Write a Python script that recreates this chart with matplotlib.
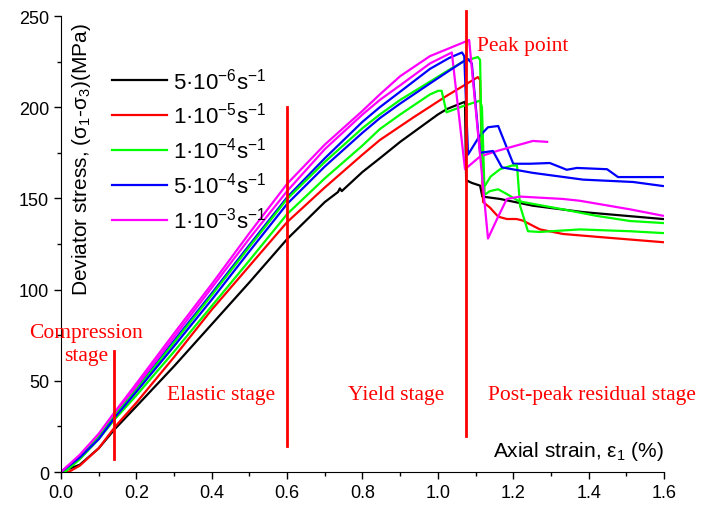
import matplotlib
matplotlib.use("Agg")
import matplotlib.pyplot as plt
from matplotlib.ticker import MultipleLocator, FormatStrFormatter

plt.rcParams["font.family"] = ["Liberation Sans", "DejaVu Sans"]
plt.rcParams["mathtext.fontset"] = "custom"
plt.rcParams["mathtext.rm"] = "Liberation Sans"
plt.rcParams["mathtext.it"] = "Liberation Sans:italic"

# strain (%) and deviator stress (MPa)
black_x = [0.0, 0.05, 0.1, 0.143, 0.2, 0.3, 0.4, 0.5, 0.6, 0.7, 0.735, 0.74, 0.745, 0.8, 0.846, 0.9, 1.0, 1.024, 1.072,
           1.075, 1.09, 1.112, 1.118, 1.165, 1.252, 1.385, 1.597]
black_y = [0, 4, 13, 23.6, 36, 58, 81, 104, 127.7, 148, 153.5, 155.5, 154, 164.5, 172, 181, 196, 199, 203,
           160, 158.5, 157, 151, 149.7, 146, 142.5, 138.7]

red_x = [0.0, 0.02, 0.05, 0.1, 0.143, 0.2, 0.3, 0.4, 0.5, 0.6, 0.7, 0.8, 0.846, 0.935, 1.024, 1.106,
         1.112, 1.118, 1.12, 1.138, 1.16, 1.183, 1.209, 1.226, 1.252, 1.271, 1.332, 1.43, 1.597]
red_y = [0, 0, 3.5, 13, 24.7, 38, 63, 89, 113, 137, 156, 174, 182, 194.4, 206.3, 216.5,
         215, 160, 148, 145, 140, 138.7, 138.7, 137.8, 135, 133, 130.5, 128.8, 126]

greenA_x = [0.0, 0.01, 0.05, 0.1, 0.143, 0.2, 0.3, 0.4, 0.5, 0.6, 0.7, 0.8, 0.846, 0.9, 0.979, 1.001, 1.01,
            1.023, 1.067, 1.112, 1.117, 1.124, 1.138, 1.16, 1.183, 1.213, 1.226, 1.332, 1.422, 1.51, 1.597]
greenA_y = [0, 0, 7, 18, 29, 42, 66, 91, 116, 141.4, 161, 179, 188, 196, 207, 209, 209,
            197.2, 200.6, 203.6, 200, 152, 154, 155, 152.4, 148.7, 148, 144, 140.4, 137.6, 136.5]

greenB_x = [0.0, 0.01, 0.05, 0.1, 0.143, 0.2, 0.3, 0.4, 0.5, 0.6, 0.7, 0.8, 0.846, 0.9, 0.979, 1.03, 1.067, 1.106,
            1.112, 1.118, 1.125, 1.14, 1.165, 1.196, 1.21, 1.218, 1.239, 1.27, 1.377, 1.51, 1.597]
greenB_y = [0, 0, 8, 19, 31, 45, 71, 97, 123.5, 149.7, 170, 188.5, 196, 204, 214, 220.5, 225, 227.5,
            226, 160, 157, 162, 166, 168, 168, 146, 132, 131.6, 133, 132, 131]

blueA_x = [0.0, 0.05, 0.1, 0.143, 0.2, 0.3, 0.4, 0.5, 0.6, 0.7, 0.8, 0.846, 0.9, 0.979, 1.03, 1.064,
           1.07, 1.08, 1.11, 1.133, 1.16, 1.2, 1.244, 1.297, 1.342, 1.369, 1.449, 1.478, 1.597]
blueA_y = [0, 8.5, 19, 31, 45.5, 72, 98, 124.5, 150.6, 172, 192, 200, 208.5, 221, 227, 230,
           228, 174, 184, 189, 189.7, 169, 169, 169.4, 165.7, 166.7, 166, 161.7, 161.7]

blueB_x = [0.0, 0.05, 0.1, 0.143, 0.2, 0.3, 0.4, 0.5, 0.6, 0.7, 0.8, 0.846, 0.9, 0.979, 1.03, 1.067, 1.08,
           1.09, 1.112, 1.146, 1.17, 1.252, 1.385, 1.518, 1.597]
blueB_y = [0, 8, 18, 30, 44, 69, 94.5, 121, 147, 167.5, 186, 194, 202, 213, 220, 225, 226.4,
           224, 175, 176, 167, 164, 160.3, 159, 156.8]

magA_x = [0.0, 0.05, 0.1, 0.143, 0.2, 0.3, 0.4, 0.5, 0.6, 0.7, 0.8, 0.846, 0.9, 0.979, 1.037,
          1.072, 1.112, 1.157, 1.252, 1.29]
magA_y = [0, 9, 20, 32, 47, 74, 101, 128, 154, 177, 196, 204, 212, 224, 230,
          166, 173, 176, 181.5, 181]

magB_x = [0.0, 0.05, 0.1, 0.143, 0.2, 0.3, 0.4, 0.5, 0.6, 0.7, 0.8, 0.846, 0.9, 0.979, 1.05, 1.083,
          1.133, 1.157, 1.183, 1.218, 1.332, 1.377, 1.51, 1.597]
magB_y = [0, 9.5, 21, 33, 48.5, 76, 103, 131, 158, 179.5, 198, 207, 217, 228, 234, 236.8,
          128, 138.7, 149.7, 151, 149.7, 148.7, 144, 140.5]

curves = [
    (black_x, black_y, "black", "5·10$^{-6}$s$^{-1}$"),
    (red_x, red_y, "#ff0000", "1·10$^{-5}$s$^{-1}$"),
    (greenA_x, greenA_y, "#00ff00", "1·10$^{-4}$s$^{-1}$"),
    (blueA_x, blueA_y, "#0000ff", "5·10$^{-4}$s$^{-1}$"),
    (magA_x, magA_y, "#ff00ff", "1·10$^{-3}$s$^{-1}$"),
    (greenB_x, greenB_y, "#00ff00", None),
    (blueB_x, blueB_y, "#0000ff", None),
    (magB_x, magB_y, "#ff00ff", None),
]

# stage boundary markers: x, y bottom, y top
stage_lines = [(0.1414, 7.1, 66.3), (0.599, 14.2, 200), (1.0746, 19.9, 253)]
stage_labels = [
    (0.066, 70, "Compression\nstage", "center"),
    (0.281, 42.5, "Elastic stage", "left"),
    (0.761, 42.5, "Yield stage", "left"),
    (1.133, 42.5, "Post-peak residual stage", "left"),
    (1.104, 234, "Peak point", "left"),
]

fig = plt.figure(figsize=(7.06, 5.06), dpi=100)
ax = fig.add_axes([0.0864, 0.0652, 0.8541, 0.9012])

handles = []
for x, y, color, label in curves:
    ln, = ax.plot(x, y, color=color, lw=1.6, label=label)
    if label:
        handles.append(ln)

for x, y0, y1 in stage_lines:
    ax.plot([x, x], [y0, y1], color="#ff0000", lw=2.0, clip_on=False, zorder=5)

for x, y, txt, ha in stage_labels:
    ax.text(x, y, txt, color="#ff0000", fontsize=15.5, family="Liberation Serif",
            ha=ha, va="center", multialignment="center", linespacing=1.3)

ax.set_xlim(0, 1.6)
ax.set_ylim(0, 250)
ax.spines["top"].set_visible(False)
ax.spines["right"].set_visible(False)
ax.xaxis.set_major_locator(MultipleLocator(0.2))
ax.xaxis.set_minor_locator(MultipleLocator(0.1))
ax.xaxis.set_major_formatter(FormatStrFormatter("%.1f"))
ax.yaxis.set_major_locator(MultipleLocator(50))
ax.yaxis.set_minor_locator(MultipleLocator(25))
ax.tick_params(which="major", direction="out", length=5, width=1, labelsize=13)
ax.tick_params(which="minor", direction="out", length=3, width=1)

ax.text(1.6, 12, r"Axial strain, ε$_1$ (%)", fontsize=15, ha="right", va="center")
ax.text(0.054, 172, r"Deviator stress, (σ$_1$-σ$_3$)(MPa)", fontsize=15,
        rotation=90, ha="center", va="center")

ax.legend(handles=handles, loc="upper left", bbox_to_anchor=(0.07, 0.907),
          frameon=False, fontsize=16, handlelength=2.45, handletextpad=0.3,
          labelspacing=0.40, borderaxespad=0)

fig.savefig("out.png", dpi=100)
